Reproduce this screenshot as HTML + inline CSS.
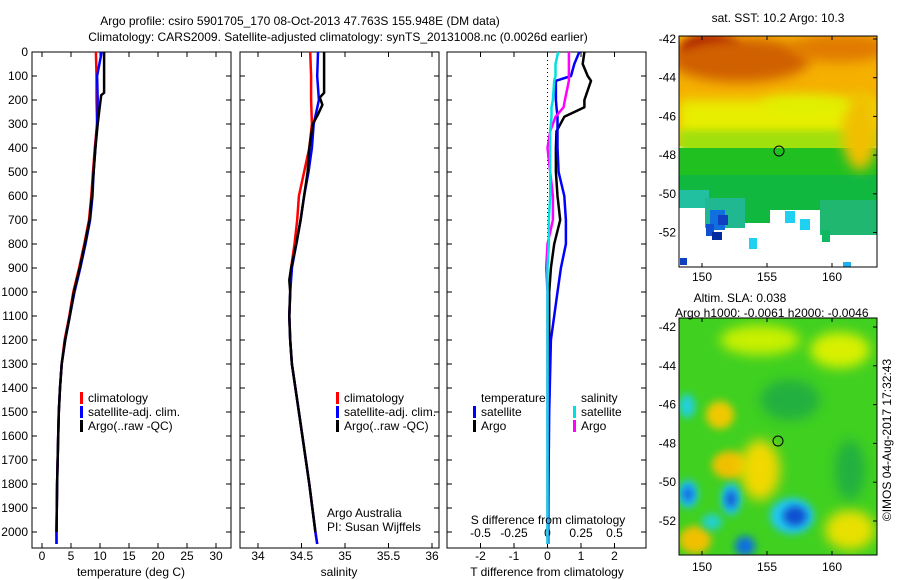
<!DOCTYPE html>
<html><head><meta charset="utf-8"><style>
html,body{margin:0;padding:0;background:#fff;}
svg{display:block;font-family:"Liberation Sans",sans-serif;}
text{font-size:12px;fill:#000;}
</style></head><body>
<svg id="chart" width="900" height="580" viewBox="0 0 900 580" xmlns="http://www.w3.org/2000/svg">
<defs>
<filter id="blur6" x="-50%" y="-50%" width="200%" height="200%"><feGaussianBlur stdDeviation="6"/></filter>
<filter id="blur4" x="-50%" y="-50%" width="200%" height="200%"><feGaussianBlur stdDeviation="4"/></filter>
<clipPath id="clipTop"><rect x="679" y="36" width="198" height="231"/></clipPath>
<clipPath id="clipBot"><rect x="679" y="318" width="198" height="237"/></clipPath>
</defs>
<text x="300" y="25" text-anchor="middle">Argo profile: csiro 5901705_170 08-Oct-2013 47.763S 155.948E (DM data)</text>
<text x="338" y="41" text-anchor="middle">Climatology: CARS2009. Satellite-adjusted climatology: synTS_20131008.nc (0.0026d earlier)</text>

<g id="maps">
<g clip-path="url(#clipTop)">
<rect x="679" y="36" width="198" height="231" fill="#ffffff"/>
<rect x="679" y="36" width="198" height="110" fill="#f5b000"/>
<rect x="679" y="100" width="198" height="40" fill="#e8ee00" filter="url(#blur6)"/>
<rect x="679" y="130" width="198" height="25" fill="#a0e010" filter="url(#blur4)"/>
<rect x="679" y="148" width="198" height="50" fill="#20c020"/>
<rect x="679" y="175" width="198" height="25" fill="#10b840"/>
<ellipse cx="710" cy="50" rx="30" ry="16" fill="#a01000" filter="url(#blur4)"/>
<ellipse cx="740" cy="60" rx="70" ry="22" fill="#d06000" filter="url(#blur6)"/>
<ellipse cx="840" cy="48" rx="50" ry="14" fill="#e07a00" filter="url(#blur6)"/>
<ellipse cx="860" cy="130" rx="18" ry="40" fill="#f0c000" filter="url(#blur6)"/>
<ellipse cx="805" cy="105" rx="45" ry="10" fill="#e0f000" filter="url(#blur6)"/>
<rect x="679" y="198" width="198" height="14" fill="#10b840"/>
<rect x="679" y="190" width="30" height="22" fill="#20c0a0"/>
<rect x="679" y="208" width="198" height="60" fill="#ffffff"/>
<rect x="705" y="198" width="40" height="30" fill="#20b890"/>
<rect x="745" y="205" width="25" height="18" fill="#10b840"/>
<rect x="770" y="200" width="60" height="10" fill="#10b840"/>
<rect x="820" y="200" width="57" height="35" fill="#20b870"/>
<rect x="710" y="210" width="15" height="20" fill="#1070e0"/>
<rect x="718" y="215" width="10" height="10" fill="#1040c0"/>
<rect x="706" y="224" width="8" height="12" fill="#1050d0"/>
<rect x="712" y="232" width="10" height="8" fill="#002ca0"/>
<rect x="785" y="211" width="10" height="12" fill="#20d0f0"/>
<rect x="800" y="219" width="10" height="11" fill="#20d0f0"/>
<rect x="749" y="238" width="8" height="11" fill="#20d0f0"/>
<rect x="822" y="230" width="8" height="12" fill="#10b860"/>
<rect x="680" y="258" width="7" height="7" fill="#1040c0"/>
<rect x="843" y="262" width="8" height="5" fill="#20b0f0"/>
</g>
<rect x="679" y="36" width="198" height="231" fill="none" stroke="#000" stroke-width="1"/>
<circle cx="779" cy="151" r="5" fill="none" stroke="#000"/>
<text x="778" y="22" text-anchor="middle">sat. SST: 10.2  Argo: 10.3</text>

<g clip-path="url(#clipBot)">
<rect x="679" y="318" width="198" height="237" fill="#40d020"/>
<ellipse cx="760" cy="340" rx="40" ry="15" fill="#c8f000" filter="url(#blur6)"/>
<ellipse cx="840" cy="350" rx="30" ry="18" fill="#d8f000" filter="url(#blur6)"/>
<ellipse cx="720" cy="415" rx="14" ry="14" fill="#f0c800" filter="url(#blur4)"/>
<ellipse cx="730" cy="465" rx="18" ry="14" fill="#f0c000" filter="url(#blur4)"/>
<ellipse cx="760" cy="470" rx="20" ry="30" fill="#f0d800" filter="url(#blur6)"/>
<ellipse cx="695" cy="540" rx="16" ry="14" fill="#f0c000" filter="url(#blur4)"/>
<ellipse cx="850" cy="530" rx="25" ry="20" fill="#e8e000" filter="url(#blur6)"/>
<ellipse cx="790" cy="400" rx="30" ry="20" fill="#20b040" filter="url(#blur6)"/>
<ellipse cx="850" cy="470" rx="15" ry="30" fill="#20b040" filter="url(#blur6)"/>
<ellipse cx="687" cy="406" rx="8" ry="12" fill="#20d0e0" filter="url(#blur4)"/>
<ellipse cx="688" cy="494" rx="10" ry="14" fill="#20c8f0" filter="url(#blur4)"/>
<ellipse cx="688" cy="494" rx="5" ry="8" fill="#1060e0" filter="url(#blur4)"/>
<ellipse cx="731" cy="499" rx="10" ry="16" fill="#20c8f0" filter="url(#blur4)"/>
<ellipse cx="731" cy="499" rx="5" ry="9" fill="#1050d0" filter="url(#blur4)"/>
<ellipse cx="792" cy="516" rx="22" ry="18" fill="#20c8f0" filter="url(#blur4)"/>
<ellipse cx="795" cy="516" rx="12" ry="10" fill="#1050d0" filter="url(#blur4)"/>
<ellipse cx="745" cy="546" rx="10" ry="10" fill="#1070e0" filter="url(#blur4)"/>
<ellipse cx="712" cy="522" rx="10" ry="8" fill="#20d0d0" filter="url(#blur4)"/>
</g>
<rect x="679" y="318" width="198" height="237" fill="none" stroke="#000" stroke-width="1"/>
<circle cx="778" cy="441" r="5" fill="none" stroke="#000"/>
<text x="740" y="302" text-anchor="middle">Altim. SLA: 0.038</text>
<text x="675" y="317">Argo h1000: -0.0061 h2000: -0.0046</text>
<text transform="translate(891,440) rotate(-90)" text-anchor="middle">©IMOS 04-Aug-2017 17:32:43</text>
</g>
<g id="dyn"></g>
</svg>
<script>
// ---- data ----
const depths = [0,100,200,300,400,500,600,700,800,900,1000,1100,1200,1300,1400,1500,1600,1800,2000,2050];
const tempClim = [9.3,9.4,9.4,9.5,9.1,8.8,8.5,8.1,7.3,6.4,5.4,4.7,3.9,3.4,3.1,2.9,2.8,2.6,2.5,2.5];
const tempSat = [10.3,9.5,9.6,9.5,9.2,8.9,8.7,8.3,7.5,6.6,5.6,4.8,4.0,3.4,3.1,2.9,2.8,2.6,2.5,2.5];
const tempArgoDepths = [0,170,180,240,300,400,500,600,700,800,900,1000,1100,1200,1300,1400,1500,1600,1800,2000];
const tempArgo = [10.7,10.7,10.2,9.9,9.6,9.2,8.9,8.6,8.2,7.4,6.5,5.5,4.8,4.0,3.4,3.1,2.9,2.8,2.6,2.5];
const salClim = [34.60,34.61,34.61,34.62,34.59,34.53,34.47,34.45,34.42,34.38,34.37,34.36,34.37,34.39,34.43,34.47,34.51,34.59,34.66,34.68];
const salSat = [34.69,34.68,34.70,34.64,34.62,34.58,34.53,34.49,34.44,34.39,34.37,34.36,34.37,34.39,34.43,34.47,34.51,34.59,34.66,34.68];
const salArgoDepths = [0,170,190,220,260,300,400,500,600,700,800,900,950,1000,1100,1200,1300,1500,1800,2000];
const salArgo = [34.76,34.76,34.71,34.74,34.69,34.63,34.59,34.57,34.53,34.49,34.44,34.38,34.36,34.37,34.36,34.37,34.39,34.47,34.59,34.66];
const diffDepths = [0,50,100,120,200,230,270,330,400,500,600,700,800,900,1000,1200,1500,1800,2050];
const tDiffSat = [0.95,0.8,0.7,0.25,0.25,0.27,0.3,0.3,0.3,0.33,0.5,0.55,0.55,0.4,0.3,0.1,0.05,0.03,0.02];
const tDiffArgo = [1.1,1.05,1.2,1.3,1.1,1.1,0.5,0.27,0.25,0.25,0.3,0.38,0.2,0.1,0.05,0.05,0.04,0.02,0.02];
const sDiffSat = [0.08,0.06,0.06,0.05,0.04,0.03,0.03,0.02,0.02,0.02,0.02,0.01,0.01,0.0,0.0,0.0,0.0,0.0,0.0];
const sDiffArgo = [0.16,0.16,0.16,0.16,0.13,0.12,0.06,0.02,0.0,0.02,0.04,0.04,0.0,-0.01,0.0,0.0,0.0,0.0,0.0];
const depthTicks = [0,100,200,300,400,500,600,700,800,900,1000,1100,1200,1300,1400,1500,1600,1700,1800,1900,2000];
const tempTicks = [0,5,10,15,20,25,30];
const salTicks = [34,34.5,35,35.5,36];
const tDiffTicks = [-2,-1,0,1,2];
const sDiffTicks = [-0.5,-0.25,0,0.25,0.5];
const sDiffTickLabels = ['-0.5','-0.25','0','0.25','0.5'];

// ---- axes ----
const NS='http://www.w3.org/2000/svg';
const gDyn=document.getElementById('dyn');
const yD=d=>52+d*0.24;
const xT=t=>42+t*5.8;
const xS=s=>258+(s-34)*87;
const xTd=t=>547.5+t*33.5;
const xSd=s=>547.5+s*134;
function el(tag,attrs,parent){const e=document.createElementNS(NS,tag);for(const k in attrs)e.setAttribute(k,attrs[k]);(parent||gDyn).appendChild(e);return e;}
function txt(x,y,s,anchor){const t=el('text',{x:x,y:y,'text-anchor':anchor||'middle'});t.textContent=s;return t;}
const panels=[{x0:32,x1:231},{x0:240,x1:439},{x0:447,x1:646}];
const yTop=52,yBot=548;
panels.forEach((p,i)=>{
  const r=el('rect',{x:p.x0,y:yTop,width:p.x1-p.x0,height:yBot-yTop,fill:'none',stroke:'#000','stroke-width':1});
  
  
  depthTicks.forEach(d=>{
    el('line',{x1:p.x0,x2:p.x0+5,y1:yD(d),y2:yD(d),stroke:'#000'});
    el('line',{x1:p.x1-5,x2:p.x1,y1:yD(d),y2:yD(d),stroke:'#000'});
  });
});
depthTicks.forEach(d=>{const t=txt(28,yD(d)+4,String(d),'end');
  
  });
function xticks(vals,fx,labels,y){vals.forEach((v,i)=>{const x=fx(v);
  el('line',{x1:x,x2:x,y1:yBot,y2:yBot-5,stroke:'#000'});
  el('line',{x1:x,x2:x,y1:yTop,y2:yTop+5,stroke:'#000'});
  const t=txt(x,y,labels?labels[i]:String(v));
  
  });}
xticks(tempTicks,xT,null,560);
xticks(salTicks,xS,null,560);
xticks(tDiffTicks,xTd,null,560);
sDiffTicks.forEach((v,i)=>{const t=txt(xSd(v),537,sDiffTickLabels[i]);
  
  });
const lonTicks=[150,155,160];
const latTicks=[-42,-44,-46,-48,-50,-52];
lonTicks.forEach(l=>{const x=702+(l-150)*13;
  el('line',{x1:x,x2:x,y1:36,y2:40,stroke:'#000'});el('line',{x1:x,x2:x,y1:263,y2:267,stroke:'#000'});
  el('line',{x1:x,x2:x,y1:318,y2:322,stroke:'#000'});el('line',{x1:x,x2:x,y1:551,y2:555,stroke:'#000'});
  let t=txt(x,281,String(l));
  t=txt(x,571,String(l));});
latTicks.forEach(l=>{const y1=39+(-42-l)*19.35, y2=327+(-42-l)*19.4;
  el('line',{x1:873,x2:877,y1:y1,y2:y1,stroke:'#000'});el('line',{x1:873,x2:877,y1:y2,y2:y2,stroke:'#000'});
  let t=txt(676,y1+4,String(l),'end');
  t=txt(676,y2+4,String(l),'end');});

const zl=el('line',{x1:xTd(0),x2:xTd(0),y1:yTop,y2:yBot,stroke:'#000','stroke-dasharray':'1,3'});



function line(ds,vals,fx,color,name){
  const pts=vals.map((v,i)=>fx(v).toFixed(1)+','+yD(ds[i]).toFixed(1)).join(' ');
  const p=el('polyline',{points:pts,fill:'none',stroke:color,'stroke-width':2.5,'stroke-linejoin':'round'});
  
  
}
line(depths,tempClim,xT,'#ff0000','temp-climatology-line');
line(depths,tempSat,xT,'#0000ff','temp-satellite-line');
line(tempArgoDepths,tempArgo,xT,'#000000','temp-argo-line');
line(depths,salClim,xS,'#ff0000','sal-climatology-line');
line(depths,salSat,xS,'#0000ff','sal-satellite-line');
line(salArgoDepths,salArgo,xS,'#000000','sal-argo-line');
line(diffDepths,tDiffArgo,xTd,'#000000','t-diff-argo-line');
line(diffDepths,tDiffSat,xTd,'#0000ff','t-diff-satellite-line');
line(diffDepths,sDiffArgo,xSd,'#ff00ff','s-diff-argo-line');
line(diffDepths,sDiffSat,xSd,'#00e0e0','s-diff-satellite-line');

function leg(x,y,color,label,name){
  el('rect',{x:x,y:y-10,width:3,height:12,fill:color});
  const t=txt(x+8,y,label,'start');
  
  
}
[[80,'temp'],[336,'sal']].forEach(([x,n])=>{
  leg(x,402,'#ff0000','climatology',n+'-legend-climatology');
  leg(x,416,'#0000ff','satellite-adj. clim.',n+'-legend-satellite');
  leg(x,430,'#000000','Argo(..raw -QC)',n+'-legend-argo');
});
let tt=txt(481,402,'temperature','start');
tt=txt(581,402,'salinity','start');
leg(473,416,'#0000ff','satellite','diff-legend-t-satellite');
leg(473,430,'#000000','Argo','diff-legend-t-argo');
leg(573,416,'#00e0e0','satellite','diff-legend-s-satellite');
leg(573,430,'#ff00ff','Argo','diff-legend-s-argo');
tt=txt(548,524,'S difference from climatology');
tt=txt(547,576,'T difference from climatology');
tt=txt(131,576,'temperature (deg C)');
tt=txt(339,576,'salinity');
tt=txt(327,517,'Argo Australia','start');
tt=txt(327,531,'PI: Susan Wijffels','start');
</script>
</body></html>
